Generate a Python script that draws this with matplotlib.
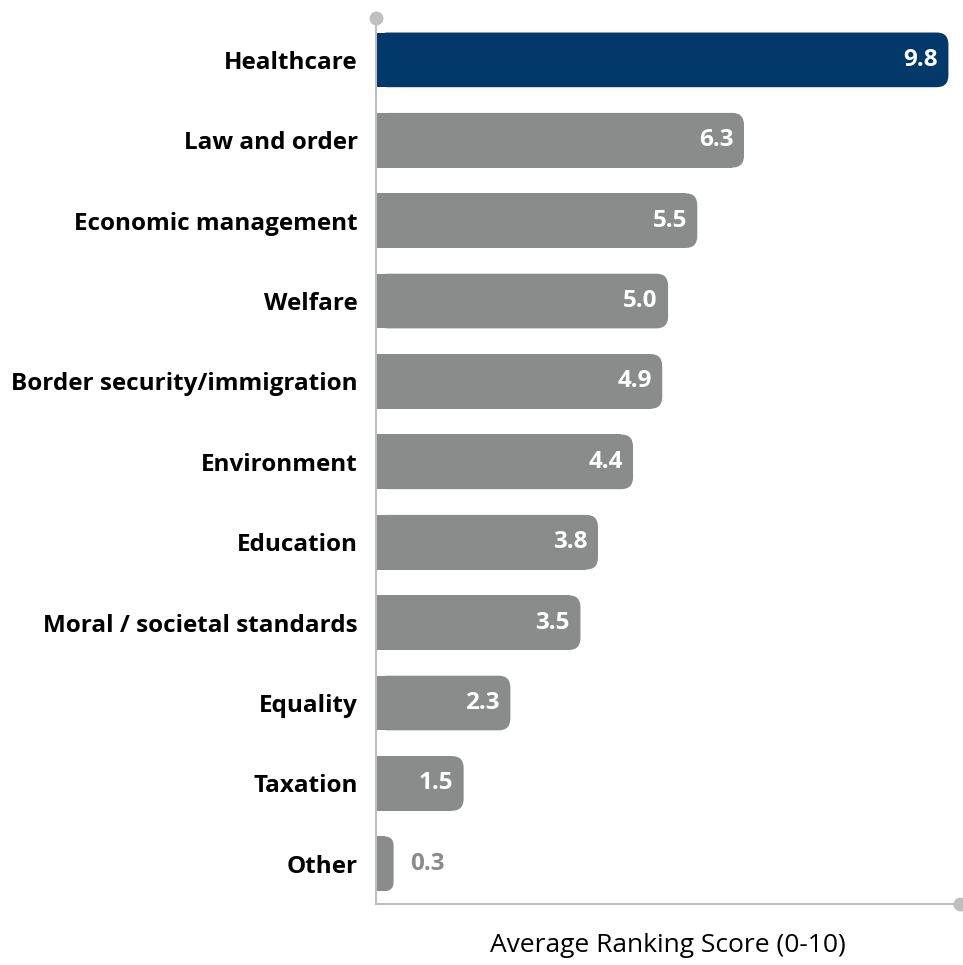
import matplotlib.pyplot as plt
from matplotlib.patches import FancyBboxPatch

# Issue ranking data
issues = ['Healthcare', 'Law and order', 'Economic management', 'Welfare',
          'Border security/immigration', 'Environment', 'Education',
          'Moral / societal standards', 'Equality', 'Taxation', 'Other']
scores = [9.8, 6.3, 5.5, 5.0, 4.9, 4.4, 3.8, 3.5, 2.3, 1.5, 0.3]

navy = '#02386A'
grey = '#8A8C8C'
axis_grey = '#BFBFBF'

plt.rcParams['font.family'] = ['Open Sans', 'DejaVu Sans']

fig = plt.figure(figsize=(9.63, 9.65), dpi=100)
ax = fig.add_axes([0.3905, 0.0632, 0.6065, 0.9181])

h = 0.68
r = 0.2
asp = 0.75
for i, v in enumerate(scores):
    col = navy if i == 0 else grey
    rr = min(r, v / 2)
    # square left part + rounded right part
    ax.barh(i, max(v - rr, 0), height=h, color=col, linewidth=0)
    ax.add_patch(FancyBboxPatch((0, i - h / 2), v, h,
                                boxstyle='round,pad=0,rounding_size=%g' % rr,
                                mutation_aspect=asp, facecolor=col,
                                edgecolor='none'))
    if v >= 1:
        ax.text(v - 0.18, i, '%.1f' % v, ha='right', va='center',
                color='white', fontsize=17.5, fontweight='bold')
    else:
        ax.text(v + 0.28, i, '%.1f' % v, ha='left', va='center',
                color=grey, fontsize=17.5, fontweight='bold')

ax.set_xlim(0, 10)
ax.set_ylim(10.5, -0.52)
ax.set_yticks(range(len(issues)))
ax.set_yticklabels(issues, fontsize=17.5, fontweight='bold')
ax.tick_params(axis='y', length=0, pad=13)
ax.set_xticks([])

for s in ['top', 'right']:
    ax.spines[s].set_visible(False)
for s in ['left', 'bottom']:
    ax.spines[s].set_color(axis_grey)
    ax.spines[s].set_linewidth(1.5)

# end dots on the axes
ax.plot([0], [1], 'o', color=axis_grey, markersize=9, transform=ax.transAxes,
        clip_on=False)
ax.plot([1], [0], 'o', color=axis_grey, markersize=9, transform=ax.transAxes,
        clip_on=False)

ax.set_xlabel('Average Ranking Score (0-10)', fontsize=19, labelpad=21)

fig.savefig('out.png', dpi=100)
